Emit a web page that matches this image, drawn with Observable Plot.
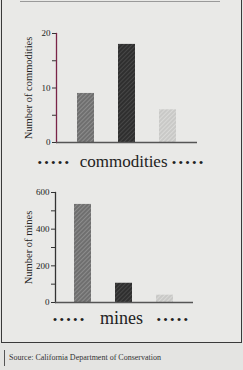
<!DOCTYPE html>
<html>
<head>
<meta charset="utf-8">
<script src="https://cdn.jsdelivr.net/npm/d3@7"></script>
<script src="https://cdn.jsdelivr.net/npm/@observablehq/plot@0.6"></script>
<style>
  html, body { margin: 0; padding: 0; }
  body { width: 243px; height: 370px; background: #e4e4e2; position: relative; overflow: hidden; font-family: "Liberation Serif", serif; }
  .frame { position: absolute; left: 1px; top: 0; width: 239px; height: 342px; border-left: 1.5px solid #3a3a3a; border-right: 1.5px solid #3a3a3a; border-bottom: 1.5px solid #3a3a3a; background: #e9e9e7; }
  .topline { position: absolute; left: 20px; top: 1px; width: 200px; height: 1px; background: #9a9a9a; }
  .chart { position: absolute; left: 0; }
  .cap { position: absolute; left: 0; width: 243px; text-align: center; color: #222; white-space: nowrap; font-family: "Liberation Serif", "DejaVu Serif", serif; }
  .dots { letter-spacing: 2.2px; font-size: 13px; vertical-align: middle; font-family: "Liberation Serif", serif; }
  .src { position: absolute; left: 9px; top: 353px; font-size: 8px; color: #333; font-family: "Liberation Serif", serif; }
  .bar { position: absolute; left: 4px; top: 350px; width: 1px; height: 16px; background: #555; }
</style>
</head>
<body>
<div class="frame"></div>
<div class="topline"></div>
<div id="c1" class="chart" style="top:15px"></div>
<div class="cap" style="top:152px;font-size:17px"><span class="dots">•••••</span>&nbsp;&nbsp;commodities&nbsp;<span class="dots">•••••</span></div>
<div id="c2" class="chart" style="top:175px"></div>
<div class="cap" style="top:308px;font-size:18px"><span class="dots">•••••</span>&nbsp;&nbsp;&nbsp;mines&nbsp;&nbsp;&nbsp;<span class="dots">•••••</span></div>
<div class="bar"></div>
<div class="src">Source: California Department of Conservation</div>
<script>
const categories = ["Category A", "Category B", "Category C"];
const commodities = [9, 18, 6];
const mines = [535, 105, 40];
const commodityTicks = [0, 5, 10, 15, 20];
const mineTicks = [0, 100, 200, 300, 400, 500, 600];

const baseColors = ["#6f6f6f", "#2f2f2f", "#c9c9c7"];
const lineColors = ["#8c8c8c", "#474747", "#d9d9d7"];

function defsMark(prefix) {
  return function () {
    const ns = "http://www.w3.org/2000/svg";
    const defs = document.createElementNS(ns, "defs");
    defs.innerHTML = baseColors.map((c, i) =>
      `<pattern id="${prefix}${i}" width="3" height="3" patternUnits="userSpaceOnUse" patternTransform="rotate(45)">` +
      `<rect width="3" height="3" fill="${c}"/>` +
      `<line x1="0.5" y1="0" x2="0.5" y2="3" stroke="${lineColors[i]}" stroke-width="1"/></pattern>`
    ).join("");
    return defs;
  };
}

function chart(values, ticks, label, opts) {
  const data = categories.map((c, i) => ({cat: c, v: values[i]}));
  return Plot.plot({
    width: 243,
    height: 135,
    marginTop: opts.mt,
    marginBottom: opts.mb,
    marginLeft: opts.ml,
    marginRight: opts.mr,
    style: {background: "transparent", fontFamily: "Liberation Serif, serif", color: "#222"},
    x: {domain: categories, paddingInner: 0.58, paddingOuter: 0.47, axis: null},
    y: {domain: [0, ticks[ticks.length - 1]]},
    color: {domain: categories, range: categories.map((c, i) => `url(#${opts.prefix}${i})`)},
    marks: [
      defsMark(opts.prefix),
      Plot.barY(data, {x: "cat", y: "v", fill: "cat"}),
      Plot.axisY({ticks, tickSize: 4, tickPadding: 2, fontSize: 9, stroke: "#333",
        tickFormat: d => (d % opts.labelEvery === 0 ? d : ""), label: null}),
      Plot.axisY({ticks: [], label, labelAnchor: "center", labelArrow: "none", labelOffset: opts.lo, fontSize: 10.5}),
      Plot.frame({anchor: "left", stroke: opts.axisColor, strokeWidth: 1.3}),
      Plot.ruleY([0], {stroke: "#555", strokeWidth: 1.5})
    ]
  });
}

document.getElementById("c1").append(chart(commodities, commodityTicks, "Number of commodities",
  {mt: 18, mb: 8, ml: 56, mr: 46, lo: 32, prefix: "pa", labelEvery: 10, axisColor: "#7a2448"}));
document.getElementById("c2").append(chart(mines, mineTicks, "Number of mines",
  {mt: 17, mb: 8, ml: 55, mr: 50, lo: 31, prefix: "pb", labelEvery: 200, axisColor: "#333"}));
</script>
</body>
</html>
